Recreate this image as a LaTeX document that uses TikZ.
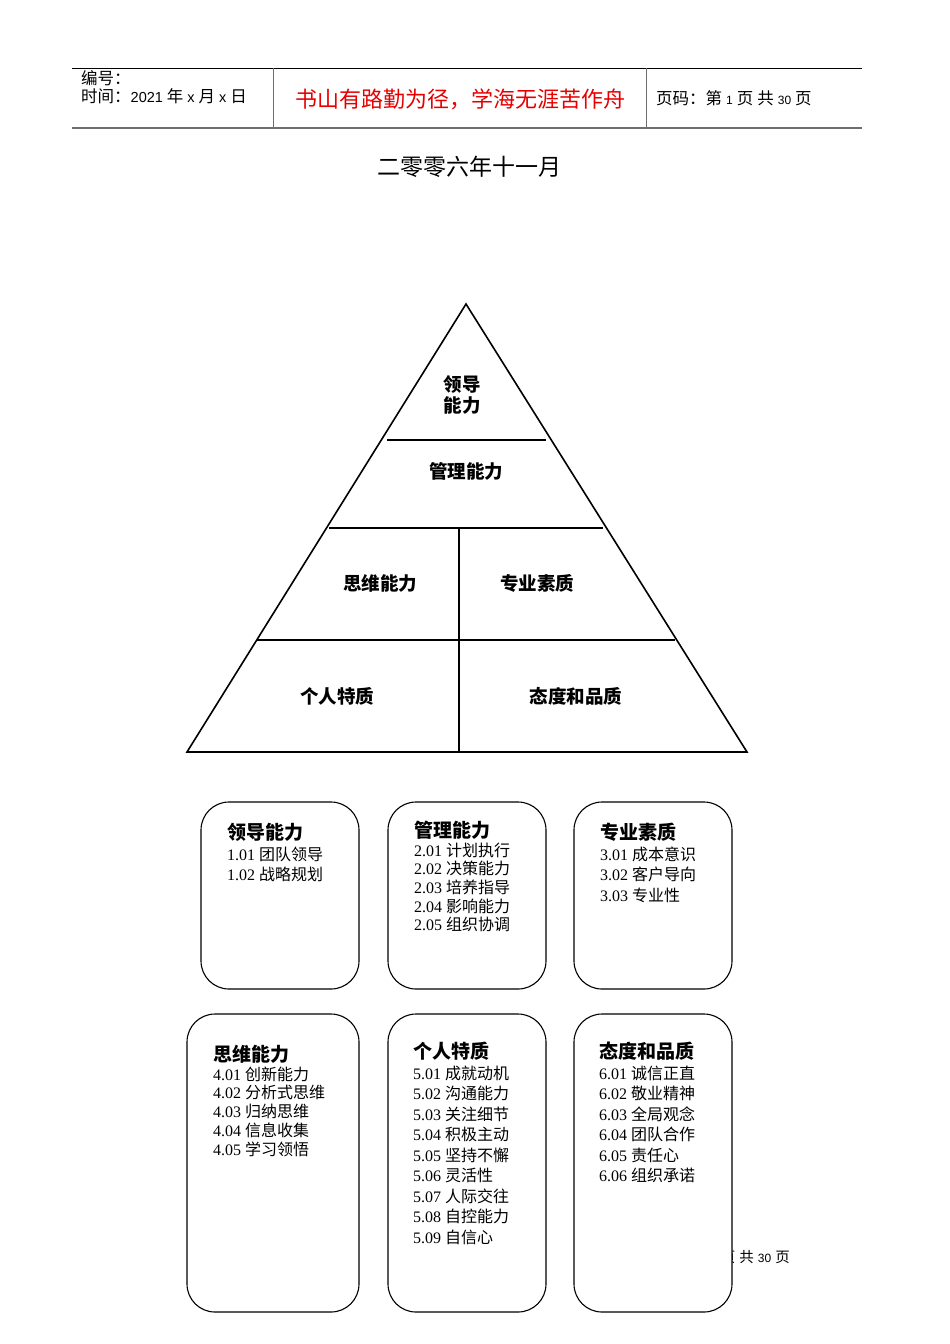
\documentclass[tikz,border=0pt]{standalone}
\usepackage{fontspec}
\setmainfont{Liberation Serif}
\setsansfont{Liberation Sans}
\newfontfamily\cjk{Noto Sans CJK SC}
\usetikzlibrary{calc}

\definecolor{rulegray}{RGB}{110,110,110}
\definecolor{mottored}{RGB}{230,0,0}

\tikzset{
 card/.style={draw, line width=1.1pt, rounded corners=28pt, fill=white},
 cardtext/.style={anchor=north west, inner sep=0pt, align=left},
 tier/.style={font=\cjk\bfseries\fontsize{18.5}{22}\selectfont, inner sep=0pt, align=center},
 head/.style={anchor=west, inner sep=0pt, font=\cjk\fontsize{16.5}{17}\selectfont},
}
\newcommand{\ent}[2]{#1~{\cjk #2}}
\newcommand{\cardhead}[1]{{\cjk\bfseries\fontsize{19}{21}\selectfont #1}}
\newcommand{\hd}[2][14.5]{{\sffamily\fontsize{#1}{17}\selectfont #2}}
\newcommand{\gap}{\hspace{4pt}}

\begin{document}
\begin{tikzpicture}[x=1pt,y=-1pt]
\useasboundingbox (0,0) rectangle (950,1344);

% header
\draw[line width=0.9pt] (72,68) -- (862,68);
\draw[rulegray, line width=1.6pt] (72,128) -- (862,128);
\draw[rulegray, line width=0.9pt] (273,68) -- (273,128);
\draw[rulegray, line width=0.9pt] (646,68) -- (646,128);
\node[head] (num) at (81,78) {编号：};
\node[head] (date) at (81,96) {时间：\hd{2021}\gap 年\gap\hd{x}\gap 月\gap\hd{x}\gap 日};
\node[inner sep=0pt, text=mottored, font=\cjk\fontsize{22}{26}\selectfont] (motto) at (460,99) {书山有路勤为径，学海无涯苦作舟};
\node[head] (page) at (656,98) {页码：第\gap\hd[12]{1}\gap 页\gap 共\gap\hd[12]{30}\gap 页};

\node[inner sep=0pt, font=\cjk\fontsize{23}{26}\selectfont] (title) at (469,167) {二零零六年十一月};

% pyramid
\coordinate (apex) at (466,304);
\coordinate (bl) at (187,752);
\coordinate (br) at (747,752);
\draw[line width=1.6pt, line join=miter] (apex) -- (br) -- (bl) -- cycle;
\draw[line width=1.6pt] (387,440) -- (546,440);
\draw[line width=1.6pt] (329,528) -- (603,528);
\draw[line width=1.6pt] (257,640) -- (675,640);
\draw[line width=1.3pt] (459,528) -- (459,752);

\node[tier] (lead) at (462,395) {领导\\[-1pt]能力};
\node[tier] (manage) at (466,471) {管理能力};
\node[tier] (think) at (380,583) {思维能力};
\node[tier] (prof) at (537,583) {专业素质};
\node[tier] (pers) at (337,696) {个人特质};
\node[tier] (attit) at (576,696) {态度和品质};

% footer (partly hidden by the last card)
\node[anchor=east, inner sep=0pt, font=\cjk\fontsize{14.5}{16}\selectfont] (foot) at (790,1257) {第\gap\hd[12]{1}\gap 页\gap 共\gap\hd[12]{30}\gap 页};

% cards
\draw[card] (201,802) rectangle (359,989);
\draw[card] (388,802) rectangle (546,989);
\draw[card] (574,802) rectangle (732,989);
\draw[card] (187,1014) rectangle (359,1312);
\draw[card] (388,1014) rectangle (546,1312);
\draw[card] (574,1014) rectangle (732,1312);

\node[cardtext, font=\fontsize{16}{20.5}\selectfont] (c1) at (227,823)
 {\cardhead{领导能力}\\ \ent{1.01}{团队领导}\\ \ent{1.02}{战略规划}};
\node[cardtext, font=\fontsize{16}{18.6}\selectfont] (c2) at (414,821)
 {\cardhead{管理能力}\\ \ent{2.01}{计划执行}\\ \ent{2.02}{决策能力}\\ \ent{2.03}{培养指导}\\ \ent{2.04}{影响能力}\\ \ent{2.05}{组织协调}};
\node[cardtext, font=\fontsize{16}{20.5}\selectfont] (c3) at (600,823)
 {\cardhead{专业素质}\\ \ent{3.01}{成本意识}\\ \ent{3.02}{客户导向}\\ \ent{3.03}{专业性}};
\node[cardtext, font=\fontsize{16}{18.7}\selectfont] (c4) at (213,1045)
 {\cardhead{思维能力}\\ \ent{4.01}{创新能力}\\ \ent{4.02}{分析式思维}\\ \ent{4.03}{归纳思维}\\ \ent{4.04}{信息收集}\\ \ent{4.05}{学习领悟}};
\node[cardtext, font=\fontsize{16}{20.5}\selectfont] (c5) at (413,1042)
 {\cardhead{个人特质}\\ \ent{5.01}{成就动机}\\ \ent{5.02}{沟通能力}\\ \ent{5.03}{关注细节}\\ \ent{5.04}{积极主动}\\ \ent{5.05}{坚持不懈}\\ \ent{5.06}{灵活性}\\ \ent{5.07}{人际交往}\\ \ent{5.08}{自控能力}\\ \ent{5.09}{自信心}};
\node[cardtext, font=\fontsize{16}{20.5}\selectfont] (c6) at (599,1042)
 {\cardhead{态度和品质}\\ \ent{6.01}{诚信正直}\\ \ent{6.02}{敬业精神}\\ \ent{6.03}{全局观念}\\ \ent{6.04}{团队合作}\\ \ent{6.05}{责任心}\\ \ent{6.06}{组织承诺}};
\end{tikzpicture}
\end{document}
